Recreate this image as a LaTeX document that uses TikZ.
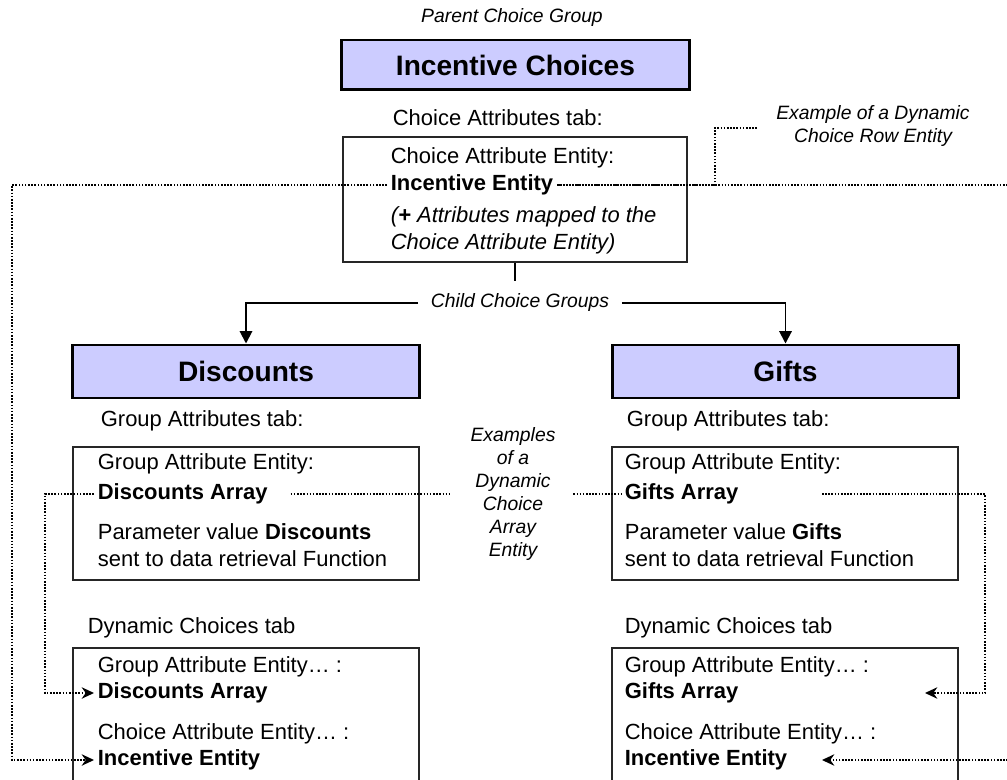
\documentclass[tikz,border=0pt]{standalone}
\usepackage{fontspec}
\setmainfont{Liberation Sans}
\usetikzlibrary{arrows.meta}
\definecolor{choiceblue}{HTML}{CCCCFF}

\tikzset{
  grouphead/.style={draw, line width=1.7pt, fill=choiceblue, inner sep=0pt,
    minimum width=6.94cm, minimum height=1.06cm,
    font=\bfseries\fontsize{16}{19}\selectfont},
  tabtitle/.style={anchor=west, inner sep=2pt, font=\fontsize{12.5}{15}\selectfont},
  entry/.style={anchor=west, inner sep=2pt, font=\fontsize{12.5}{15}\selectfont},
  keyentry/.style={entry, font=\bfseries\fontsize{12.5}{15}\selectfont},
  remark/.style={align=center, inner sep=1pt, font=\itshape\fontsize{11}{13}\selectfont},
  panel/.style={draw=black!85, line width=0.7pt, inner sep=0pt, minimum width=6.92cm},
  link/.style={line width=1.1pt, -{Triangle[length=7pt,width=7pt]}},
  trace/.style={line width=1pt, dash pattern=on 0.9pt off 0.9pt},
  tracearrow/.style={trace, -{Stealth[length=7pt,width=6.5pt]}}
}

\begin{document}
\begin{tikzpicture}[x=0.02cm, y=-0.02cm]
  \useasboundingbox (0,0) rectangle (1007,780);
  \clip (0,0) rectangle (1007,780);

  % parent choice group
  \node[remark] (parentLbl) at (512,18) {Parent Choice Group};
  \node[grouphead, minimum width=6.98cm, minimum height=1.0cm] (incChoices) at (515.5,65) {Incentive Choices};

  \node[tabtitle] (choiceTab) at (389,118) {Choice Attributes tab:};
  \node[panel, minimum width=6.88cm, minimum height=2.5cm] (choicePanel) at (515,199.5) {};
  \node[entry] (choiceCae) at (387,158) {Choice Attribute Entity:};
  \node[keyentry] (incEntity) at (387,185) {Incentive Entity};
  \node[entry, font=\itshape\fontsize{12.5}{15}\selectfont] (mappedA) at (387,217) {(\textbf{+} Attributes mapped to the};
  \node[entry, font=\itshape\fontsize{12.5}{15}\selectfont] (mappedB) at (387,244) {Choice Attribute Entity)};

  \node[remark] (rowNote) at (873,126) {Example of a Dynamic\\Choice Row Entity};

  % child choice groups
  \node[remark, inner sep=7pt] (childLbl) at (520,303) {Child Choice Groups};
  \node[grouphead] (discHead) at (246,371.5) {Discounts};
  \node[grouphead] (giftHead) at (785.5,371.5) {Gifts};
  \draw[line width=1.1pt] (choicePanel.south) -- (choicePanel.south |- childLbl.north);
  \draw[link] (childLbl.west) -| (discHead.north);
  \draw[link] (childLbl.east) -| (giftHead.north);

  % group attributes tab
  \node[tabtitle] (discTab) at (97,421) {Group Attributes tab:};
  \node[panel, minimum height=2.66cm] (discPanel) at (246,513.5) {};
  \node[entry] (discGae) at (94,464) {Group Attribute Entity:};
  \node[keyentry] (discArray) at (94,494) {Discounts Array};
  \node[entry] (discParam) at (94,532) {Parameter value \textbf{Discounts}};
  \node[entry] (discSent) at (94,559) {sent to data retrieval Function};

  \node[tabtitle] (giftTab) at (623,421) {Group Attributes tab:};
  \node[panel, minimum height=2.66cm] (giftPanel) at (785,513.5) {};
  \node[entry] (giftGae) at (621,464) {Group Attribute Entity:};
  \node[keyentry] (giftArray) at (621,494) {Gifts Array};
  \node[entry] (giftParam) at (621,532) {Parameter value \textbf{Gifts}};
  \node[entry] (giftSent) at (621,559) {sent to data retrieval Function};

  \node[remark] (arrayNote) at (513,494) {Examples\\of a\\Dynamic\\Choice\\Array\\Entity};

  % dynamic choices tab (panels run past the bottom edge)
  \node[tabtitle] (discDynTab) at (84,628) {Dynamic Choices tab};
  \node[panel, minimum height=4cm] (discDynPanel) at (246,748) {};
  \node[entry] (discDynGae) at (94,667) {Group Attribute Entity… :};
  \node[keyentry] (discDynArray) at (94,693) {Discounts Array};
  \node[entry] (discDynCae) at (94,734) {Choice Attribute Entity… :};
  \node[keyentry] (discDynInc) at (94,760) {Incentive Entity};

  \node[tabtitle] (giftDynTab) at (621,628) {Dynamic Choices tab};
  \node[panel, minimum height=4cm] (giftDynPanel) at (785,748) {};
  \node[entry] (giftDynGae) at (621,667) {Group Attribute Entity… :};
  \node[keyentry] (giftDynArray) at (621,693) {Gifts Array};
  \node[entry] (giftDynCae) at (621,734) {Choice Attribute Entity… :};
  \node[keyentry] (giftDynInc) at (621,760) {Incentive Entity};

  % dotted traces
  \coordinate (railL) at (12,0);
  \coordinate (railR) at (1020,0);
  \coordinate (discRail) at (45,0);
  \coordinate (giftRail) at (985,0);
  \coordinate (rowKnee) at (715,128);
  \coordinate (rowNoteTip) at (757,128);
  \coordinate (giftArrOut) at (822,494);
  \coordinate (giftArrIn) at (925,693);
  \coordinate (giftIncIn) at (822,760);

  \draw[tracearrow] (incEntity.west) -| (railL |- discDynInc) -- (discDynInc.west);
  \draw[tracearrow] (incEntity.east) -| (railR |- giftIncIn) -- (giftIncIn);
  \draw[trace, dash phase=0.45pt] (incEntity.east) -| (rowKnee) -- (rowNoteTip);

  \draw[tracearrow] (discArray.west) -| (discRail |- discDynArray) -- (discDynArray.west);
  \draw[trace, shorten <=11pt, shorten >=11pt] (discArray.east) -- (arrayNote.west |- discArray);
  \draw[trace, shorten <=9pt] (arrayNote.east |- giftArray) -- (giftArray.west);
  \draw[tracearrow] (giftArrOut) -| (giftRail |- giftArrIn) -- (giftArrIn);
\end{tikzpicture}
\end{document}
